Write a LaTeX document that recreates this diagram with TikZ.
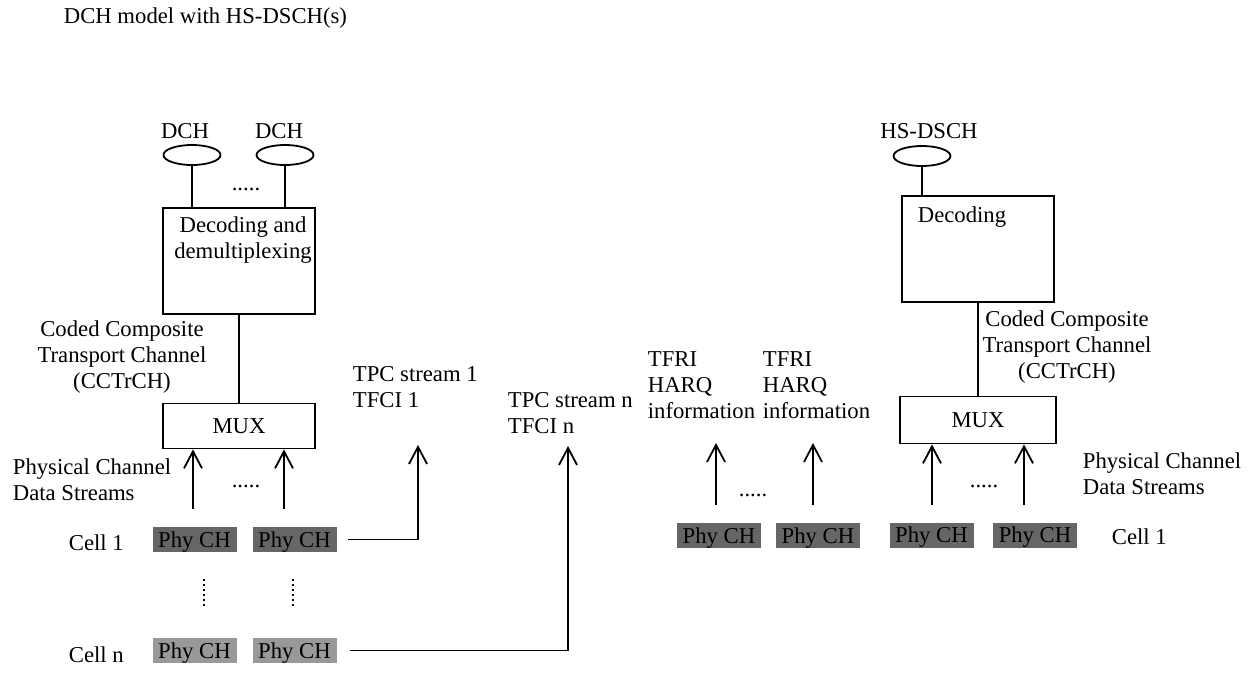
\documentclass[tikz,border=0pt]{standalone}
\usepackage{fontspec}
\setmainfont{Liberation Serif}
\usepackage{tikz}
\usetikzlibrary{arrows.meta,shapes.geometric}
\definecolor{phydark}{RGB}{102,102,102}
\definecolor{phylight}{RGB}{153,153,153}
\begin{document}
\begin{tikzpicture}[x=0.5pt,y=-0.5pt,line width=0.9pt,
  every node/.style={font=\fontsize{11.35}{13}\selectfont},
  chan/.style={draw,ellipse,minimum width=28.5pt,minimum height=10pt,inner sep=0pt},
  blk/.style={draw,rectangle,inner sep=0pt,minimum width=76pt},
  phy/.style={fill=#1,minimum width=42pt,minimum height=12.5pt,inner sep=0pt,text depth=0pt},
  up/.style={-{Straight Barb[length=8.5pt,width=9pt]}},
  txt/.style={align=left,anchor=west,inner sep=0pt},
  vdots/.style={line width=1.1pt,dash pattern=on 1pt off 1.5pt}]
\useasboundingbox (0,0) rectangle (1251,675);
\node[txt] (title) at (63,18) {DCH model with HS-DSCH(s)};

\node (dchl1) at (185,131) {DCH};
\node (dchl2) at (279,131) {DCH};
\node (hsl) at (929,131) {HS-DSCH};
\node[chan] (e1) at (192,155) {};
\node[chan] (e2) at (285,155) {};
\node[chan] (e3) at (922,156) {};
\node (dots1) at (246,189) {.....};

\node[blk,minimum height=53pt] (dec1) at (239,261) {};
\node[align=center,inner sep=0pt] (dec1txt) at (243,240) {Decoding and\\demultiplexing};
\node[blk,minimum height=22.5pt] (mux1) at (239,426) {MUX};
\node[blk,minimum height=53pt] (dec2) at (978,249) {};
\node[inner sep=0pt] (dec2txt) at (962,217) {Decoding};
\node[blk,minimum width=78pt,minimum height=23.5pt] (mux2) at (978,420) {MUX};

\node[align=center,inner sep=0pt] (cct1) at (122,357) {Coded Composite\\Transport Channel\\(CCTrCH)};
\node[align=center,inner sep=0pt] (cct2) at (1067,347) {Coded Composite\\Transport Channel\\(CCTrCH)};
\node[txt] (pcds1) at (12,480) {Physical Channel\\Data Streams};
\node[txt] (pcds2) at (1082,474) {Physical Channel\\Data Streams};
\node[txt] (tpc1) at (352,387) {TPC stream 1\\TFCI 1};
\node[txt] (tpcn) at (507,413) {TPC stream n\\TFCI n};
\node[txt] (tfri1) at (647,385) {TFRI\\HARQ\\information};
\node[txt] (tfri2) at (762,385) {TFRI\\HARQ\\information};

\node[phy=phydark] (p11) at (194.5,539.5) {Phy CH};
\node[phy=phydark] (p12) at (294.5,539.5) {Phy CH};
\node[phy=phylight] (pn1) at (194.5,650.5) {Phy CH};
\node[phy=phylight] (pn2) at (294.5,650.5) {Phy CH};
\node[phy=phydark] (h1) at (719,535.5) {Phy CH};
\node[phy=phydark] (h2) at (818,535.5) {Phy CH};
\node[phy=phydark] (r1) at (931.5,535) {Phy CH};
\node[phy=phydark] (r2) at (1035,535) {Phy CH};
\node[txt] (cell1) at (68,543) {Cell 1};
\node[txt] (celln) at (68,655) {Cell n};
\node[txt] (cellr) at (1111,537) {Cell 1};

\node (dots2) at (246,486) {.....};
\node (dots3) at (753,495) {.....};
\node (dots4) at (984,486) {.....};

\coordinate (a1) at (193,509);
\coordinate (a2) at (284,509);
\coordinate (b1) at (716,505);
\coordinate (b2) at (813,505);
\coordinate (c1) at (932,505);
\coordinate (c2) at (1024,505);
\coordinate (hq1) at (716,443);
\coordinate (hq2) at (813,443);
\coordinate (t1) at (418,445);
\coordinate (tn) at (568,446);

\draw (e1.south) -- (e1.south |- dec1.north);
\draw (e2.south) -- (e2.south |- dec1.north);
\draw (e3.south) -- (e3.south |- dec2.north);
\draw (dec1) -- (mux1);
\draw (dec2) -- (mux2);
\draw[up] (a1) -- (a1 |- mux1.south);
\draw[up] (a2) -- (a2 |- mux1.south);
\draw[up] (c1) -- (c1 |- mux2.south);
\draw[up] (c2) -- (c2 |- mux2.south);
\draw[up] (b1) -- (hq1);
\draw[up] (b2) -- (hq2);
\draw[up] ([xshift=5.5pt]p12.east) -| (t1);
\draw[up] ([xshift=6.5pt]pn2.east) -| (tn);
\draw[vdots] (204,579) -- (204,606);
\draw[vdots] (293,579) -- (293,606);
\end{tikzpicture}
\end{document}
